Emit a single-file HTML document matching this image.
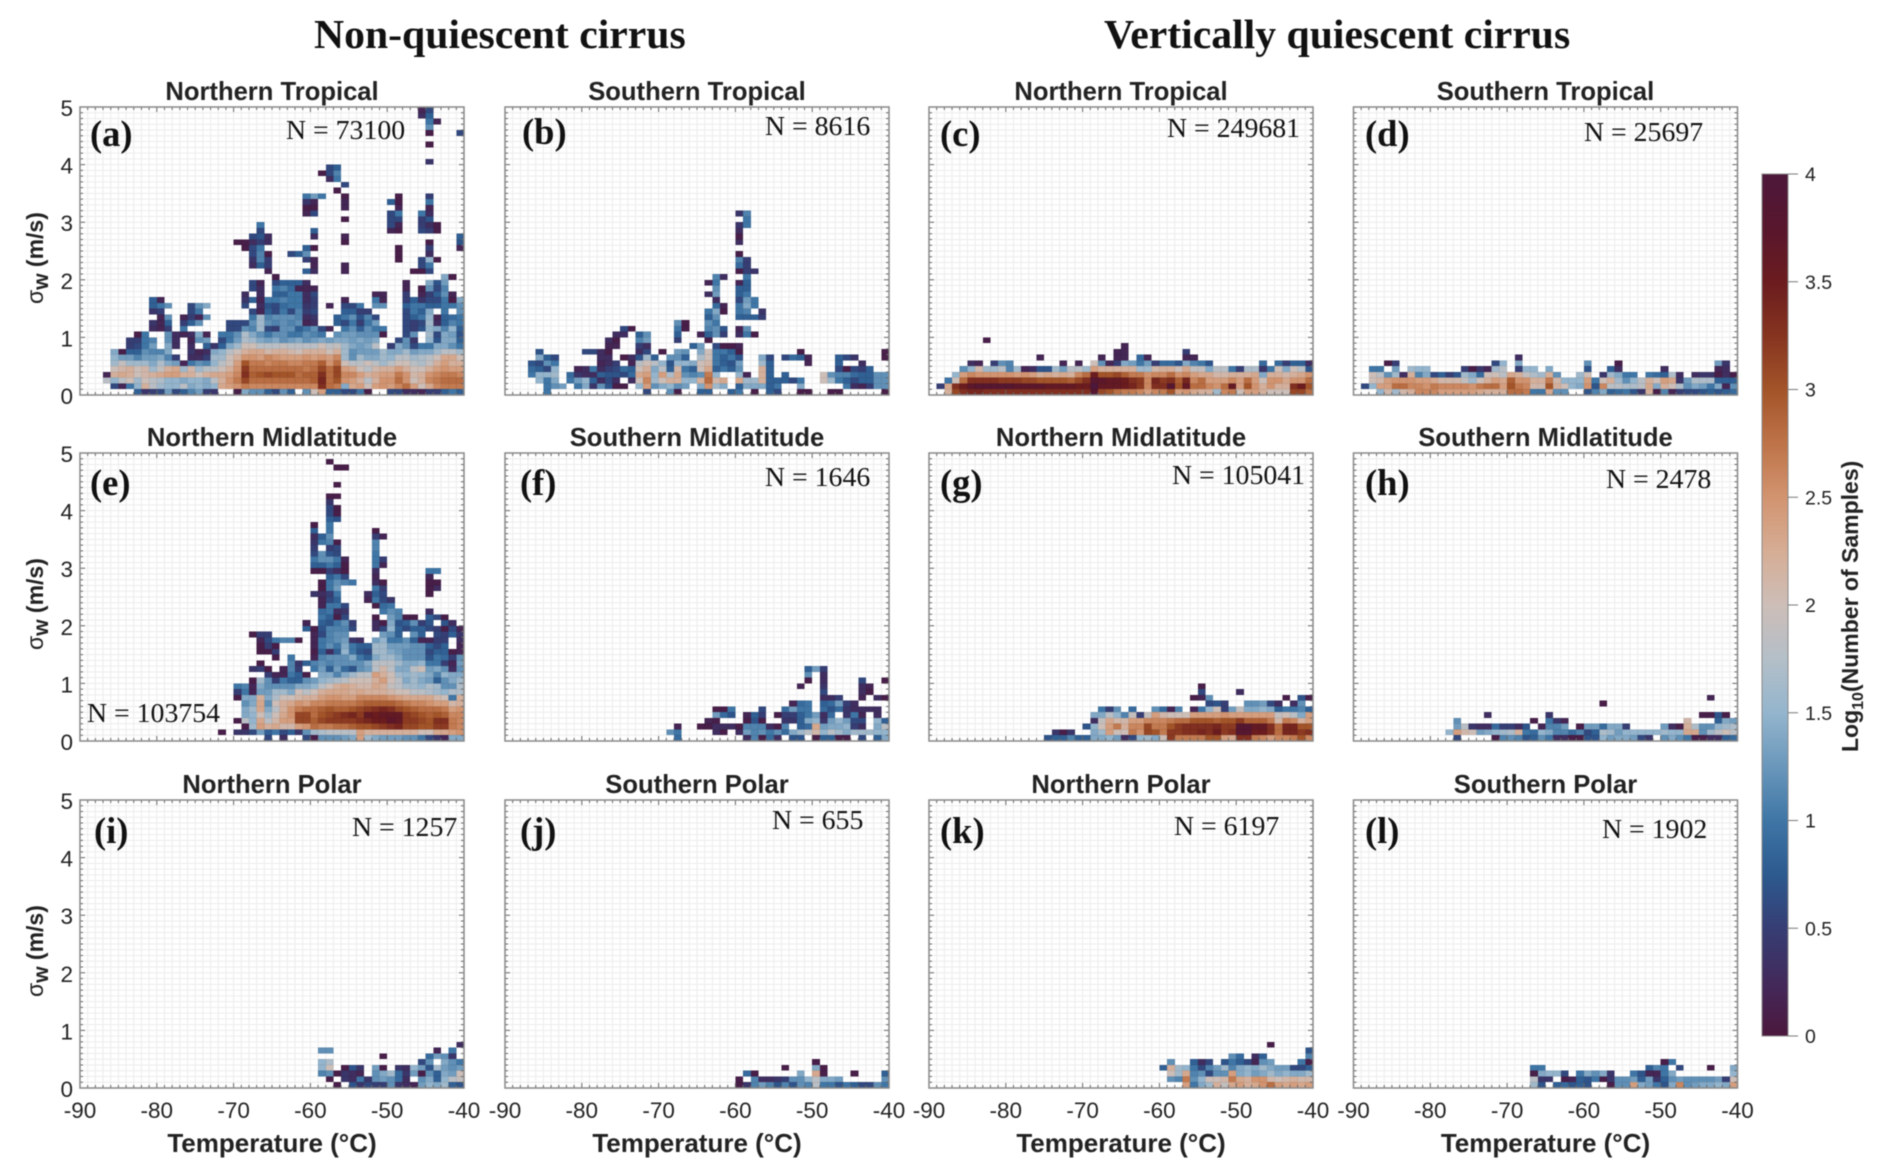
<!DOCTYPE html>
<html lang="en">
<head>
<meta charset="utf-8">
<title>Cirrus sigma-w versus temperature heatmaps</title>
<style>
html,body{margin:0;padding:0;background:#fff;width:1892px;height:1176px;overflow:hidden}
svg{display:block;filter:blur(.4px)}
text{font-family:"Liberation Sans",Arial,sans-serif;fill:#222}
.serif{font-family:"Liberation Serif","Times New Roman",serif;fill:#111}
</style>
</head>
<body>
<svg id="chart" xmlns="http://www.w3.org/2000/svg" width="1892" height="1176" viewBox="0 0 1892 1176">
<rect width="1892" height="1176" fill="#fff"/>
<text class="serif" x="314" y="48" font-size="41.7" font-weight="700">Non-quiescent cirrus</text>
<text class="serif" x="1104" y="48" font-size="41.7" font-weight="700">Vertically quiescent cirrus</text>
</svg>
<script>
// Each panel: rows from the sigma-w 0-0.1 bin upward. Each row holds segments:
// [temperature of first bin in deg C, then 10*log10(samples) per 1-degree bin].
const _ = null;
const temperatureTicks = [-90,-80,-70,-60,-50,-40];
const sigmaTicks = [0,1,2,3,4,5];
const colorbarTicks = [0,0.5,1,1.5,2,2.5,3,3.5,4];
const colorbarTickLabels = ['0','0.5','1','1.5','2','2.5','3','3.5','4'];
const panelTitles = ['Northern Tropical','Southern Tropical','Northern Tropical','Southern Tropical','Northern Midlatitude','Southern Midlatitude','Northern Midlatitude','Southern Midlatitude','Northern Polar','Southern Polar','Northern Polar','Southern Polar'];
const panelLetters = ['(a)','(b)','(c)','(d)','(e)','(f)','(g)','(h)','(i)','(j)','(k)','(l)'];
const sampleCounts = [73100,8616,249681,25697,103754,1646,105041,2478,1257,655,6197,1902];

const panelA = [
[[-83,8,4,5,6,13,6,8,11,13,5,4,_,_,1,14,12,12,8,6,12,8,_,12,20,24,8,8,6,6,10,1,_,_,6,6,3,3,2,5,5,8,10,8]],
[[-86,6,2,10,15,22,18,16,15,15,18,14,15,14,15,23,24,25,27,26,26,26,26,26,26,26,26,26,33,28,27,14,23,24,20,24,25,24,26,28,24,20,23,26,27,27,27]],
[[-87,18,15,18,20,16,20,18,17,15,15,14,15,15,14,18,22,25,27,31,28,28,28,28,28,28,28,28,29,34,28,30,25,24,22,18,22,25,25,28,25,20,22,26,27,28,28,28]],
[[-87,2,22,23,22,20,21,22,23,24,24,22,22,20,22,23,23,24,26,33,29,30,31,30,30,30,28,29,29,33,28,31,26,26,24,22,23,24,24,27,25,21,22,25,26,27,27,26]],
[[-86,20,21,22,20,21,16,19,22,23,16,21,16,18,18,20,22,25,32,28,28,28,28,28,28,28,27,28,31,28,31,24,23,20,18,21,22,22,24,22,20,20,22,24,25,24,24]],
[[-86,16,19,16,16,16,14,17,14,13,2,10,12,11,15,18,20,24,30,27,27,26,27,27,26,26,27,27,29,25,28,20,18,18,20,18,16,18,20,20,18,17,19,22,24,22,22]],
[[-86,15,13,13,11,13,13,14,11,5,_,3,3,5,16,16,20,22,25,25,24,26,25,24,24,24,25,24,25,24,26,16,12,16,14,14,16,15,18,18,16,17,18,20,23,23,20]],
[[-86,14,1,8,8,12,11,11,14,_,_,4,2,3,14,15,18,20,22,23,23,21,22,22,21,20,22,22,22,20,22,16,12,13,13,13,16,14,14,16,13,14,14,16,18,18,16]],
[[-84,5,6,10,13,_,14,3,_,3,_,8,4,8,14,16,20,20,18,18,18,19,18,18,18,18,20,18,19,16,14,13,14,18,_,5,14,12,6,10,10,14,14,12,10]],
[[-84,5,5,10,11,_,12,3,_,2,12,13,_,6,10,13,17,16,14,13,14,12,13,14,12,13,14,13,14,14,13,14,13,14,_,_,6,12,4,_,15,7,14,14,8]],
[[-83,1,10],[-79,12,3,2,3,14,2,_,10,10,12,17,14,12,10,12,12,10,10,12,11,10,_,12,13,13,12,12,12,1],[-48,6,12,_,16,6,14,13,7]],
[[-81,3,2,5,_,10],[-71,6,6,12,11,16,6,5,12,12,8,10,12,6,2,_,10,12,8,12,10,10],[-48,6,5,7,15,14,11,15,8]],
[[-81,4,2,8,_,5,8,12],[-71,6,6,6,12,16,12,11,12,11,12,2,3,_,_,8,6,10,5,10,13],[-48,6,5,6,16,3,8,11,10]],
[[-80,2,12,_,2,5,2,12],[-68,10,16,11,12,12,12,11,3,4,_,_,8,10,12,7,11,6],[-48,6,8,10,15,2,8,9,10]],
[[-81,4,5],[-76,6,10],[-68,6,2,8,6,10,6,11,5,6],[-56,8,8,5,5],[-48,6,10,8,14,_,10,_,12]],
[[-81,8,10,12,_,_,6,12,14],[-69,6,_,3,7,6,9,10,10,4,5,_,2,_,6,6,10,_,12,12,_,_,8,10,10,8,8,10,10,12]],
[[-81,8,2],[-69,4,8,2,10,10,11,10,10,3,5],[-56,2],[-52,10,2],[-48,5,8,4,6,6,10,1,14]],
[[-69,3,_,3,_,8,8,10,10,3,6],[-52,2,2],[-48,5,_,2,5,8,12,2]],
[[-68,6,3,_,10,11,9,2,2,2],[-48,2,_,1,12,6,11]],
[[-68,6,2,_,6,8,8,8,3],[-48,2],[-45,14,7,13]],
[[-65,1],[-43,14,1]],
[[-66,2],[-61,8,3],[-56,2],[-47,1,1,6]],
[[-68,3,8,5],[-60,2],[-56,2],[-46,6,10]],
[[-68,4,11,5],[-61,5,2],[-49,1],[-46,6,15,1]],
[[-68,6,11,1,_,_,6,8,12],[-49,1],[-45,3]],
[[-69,1,6,10],[-61,8,1],[-49,1],[-45,5],[-41,2]],
[[-70,1,1,3,5,3],[-56,1],[-45,1],[-41,7]],
[[-68,6,7,3],[-60,3],[-56,2],[-41,8]],
[[-67,6],[-60,8],[-50,2,1],[-46,6,5,1]],
[[-67,10],[-50,6,2],[-46,5,3,1]],
[[-56,1],[-50,6,6],[-46,5,7]],
[[-61,2,6],[-50,6,10],[-46,10,3]],
[[-61,1,1],[-56,2],[-49,2],[-45,2]],
[[-61,4,2],[-56,2],[-50,8,1],[-45,10]],
[[-61,10,13,10],[-56,1],[-49,1],[-45,5]],
[[-57,1]],
[[-56,6]],
[[-58,3,10]],
[[-59,1,6,11]],
[[-58,6,8]],
[[-45,4]],
[],
[],
[[-45,1]],
[],
[[-45,1],[-41,6]],
[[-45,12]],
[[-45,10,2]],
[[-46,3,8]],
[[-46,2,6]]
];

const panelB = [
[[-85,10],[-72,6],[-69,12,1],[-65,8,8],[-61,8,10],[-58,1],[-56,8,6],[-52,1,1],[-48,1,1],[-41,1]],
[[-85,10,12,13],[-81,10,14,4,12,7,1,1,_,15,24,12,14,15,12,13,_,14,25,16,14],[-60,8,14,14,14,8,10],[-52,14],[-46,10,3,2,5,12,12]],
[[-86,15,10,14,_,10,13,15,8,3,6,3,_,3,20,26,16,20,22,22,15,15,22,28,21,23,_,23,16,16,22,8,8,8,6,10],[-49,20,16,10,8,6,8,8,12,12]],
[[-87,10,15,15,16,_,9,4,3,3,8,7,7,6,9,23,24,15,24,17,23,12,11,12,27,15],[-60,15,2,_,22,8,_,8],[-49,20,12,11,11,9,8,8,12,12]],
[[-87,9,8,6,15],[-81,2,3,10,3,5,6,9,8,20,22,14,18,8,21,10,8,20,23,8,10,8,12],[-57,22,8],[-47,6,1,6,5,8]],
[[-87,7,6,12,10],[-78,2,3,5,_,2,18,20,18,15,7,15,15,14,20,21,10,8,7,13],[-57,16,8],[-51,2],[-47,8],[-44,3]],
[[-86,14,8,6],[-78,3,3,_,1,3,7,16,8,_,12,12,8,_,17,20,10,8,10,7],[-57,14,6,_,6,9,8,2],[-47,8,6,4],[-41,1]],
[[-86,7],[-80,6,6,3,1],[-73,3,6,_,1,_,13,12,_,14,20,10,10,8,1],[-52,1],[-41,1]],
[[-77,2,2],[-73,5,3],[-66,8,13,_,6,1,1,2]],
[[-77,3,1],[-73,11,13],[-68,5],[-64,1]],
[[-76,3,3,_,8,12],[-68,8],[-65,2,8,12,5,_,3,10,1]],
[[-75,6,1],[-68,10,1],[-64,11,12,7,_,2,12]],
[[-68,12,1],[-64,12,10]],
[[-64,8,12],[-60,8,8,8,5]],
[[-64,10,14,1],[-60,10,11,_,4]],
[[-63,9,2],[-60,10,14,10]],
[[-63,3],[-60,6,13,10]],
[[-64,3,13],[-60,8,10]],
[[-63,12],[-60,8,8]],
[[-64,2,10],[-60,2,8]],
[[-63,11,3],[-59,10]],
[[-60,1,5,4]],
[[-60,9,5]],
[[-60,11,5]],
[[-60,1]],
[],
[[-60,3]],
[[-60,1]],
[[-60,3]],
[[-60,4,10]],
[[-59,10]],
[[-60,4,11]]
];

const panelC = [
[[-88,22,31,33,34,34,33,33,33,33,33,33,33,33,33,33,33,33,33,33,38,31,30,28,27,27,26,24,26,27,30,24,25,23,22,22,16,26,27,20,24,24,22,20,20,20,31,31,28]],
[[-89,5,23,33,35,37,38,38,38,38,38,37,37,37,37,36,36,36,36,35,35,40,36,36,36,35,34,32,26,33,33,38,30,36,28,28,26,25,28,36,24,30,25,22,25,22,22,33,35,30]],
[[-88,10,20,28,33,33,33,33,32,32,32,31,31,30,30,30,30,29,31,33,38,37,36,36,35,33,32,26,34,32,33,29,34,26,28,24,24,24,26,24,28,24,20,25,25,23,25,25,28]],
[[-87,15,24,26,25,25,25,25,25,24,25,24,22,23,22,23,22,26,28,35,30,30,31,29,27,27,25,26,26,28,25,26,24,23,23,21,21,22,22,22,23,14,22,22,21,22,23,25]],
[[-86,12,15,21,16,16,18,11,16,2,3,7,7,16,13,18,18,16,24,22,22,22,22,22,16,16,21,22,22,20,23,19,19,14,18,18,10,5,17,17,4,10,20,14,20,18,7]],
[[-85,3,2,_,5,12,11],[-73,2,_,2,_,20,12,2,5,14,13,10,13,5,9,9,7,14,11,10,7],[-47,9,_,9,5,8,8,3]],
[[-76,2],[-68,2,_,2,2,_,9,2],[-57,2,2]],
[[-66,2,2],[-57,5]],
[[-65,2]],
[[-83,1]]
];

const panelD = [
[[-87,15,21,16,21,22,26,26,26,24,24,24,24,24,23,22,22,22,28,28,27,10,10,23,12,12,_,_,7,11,14,8,9,10,7,4,22,1,11,2,5,6,6,7,8,7,8,9]],
[[-89,6,15,24,24,28,28,26,26,25,27,26,26,26,26,25,27,28,28,24,30,27,26,21,21,30,22,20,15,14,25,7,26,18,18,17,17,18,23,14,22,20,17,12,14,13,10,14,2,12]],
[[-88,20,21,24,25,25,25,24,24,23,21,21,21,19,16,20,22,24,23,29,25,25,22,22,27,21,15,15,15,24,10,20,22,16,12,15,18,22,20,24,23,4,13,17,17,17,8,8,8]],
[[-88,20,18,12,16,3,22,11,14,6,8,5,7,16,14,9,20,20,18,23,22,19,17,16,22,12],[-61,16,20,_,4,16,14,10,10,_,10,9,8,17,3,_,3,4,4,1,3,1]],
[[-88,10,10,_,13,_,16,15,15],[-76,5,1,4,2,16,18,_,5,15,15,_,14],[-60,7,_,_,8,3],[-50,3],[-43,2,3]],
[[-86,1,5],[-72,6,15,_,14],[-60,12],[-56,1],[-43,13,4]],
[[-69,3]]
];

const panelE = [
[[-66,6,_,3,_,_,6,1,12,12,12,13,14,24,16,14,13,13,13,12,12,10,6,4,2,14,14]],
[[-72,1,_,4,4,6,13,8,10,6,8,4,12,16,17,18,18,18,18,24,22,22,22,22,22,22,22,20,20,23,23,24,25]],
[[-69,1,16,24,22,23,21,21,24,25,28,27,27,28,28,29,30,30,31,32,33,34,31,31,30,30,32,32,27,26]],
[[-70,1,18,15,23,18,21,24,24,31,31,29,31,32,32,32,32,33,34,35,35,37,36,32,32,31,30,33,33,27,26]],
[[-69,14,15,20,16,20,23,25,31,31,28,30,31,32,33,34,32,36,35,36,36,36,32,31,30,29,30,29,26,26]],
[[-69,14,16,23,14,18,22,25,27,28,28,29,30,29,29,30,31,32,33,34,33,31,30,29,28,28,28,27,24,25]],
[[-69,12,14,23,12,20,22,23,25,24,26,26,27,27,27,27,28,29,29,29,29,28,27,26,26,25,24,24,21,22]],
[[-70,1,14,14,22,14,17,20,20,21,22,22,24,25,25,24,24,26,26,26,26,25,24,23,23,23,23,21,20,10,22]],
[[-70,5,10,2,13,13,16,16,14,20,18,20,22,23,23,23,22,23,22,22,22,21,20,20,18,18,17,16,15,17,17]],
[[-70,10,11,2,14,12,12,12,12,14,14,15,18,20,22,23,22,21,21,23,22,19,18,16,16,15,17,16,12,12,17]],
[[-68,1,16,12,5,10,8,8,12,13,15,16,17,18,20,20,20,22,24,20,18,14,16,14,13,8,12,14,16]],
[[-66,5,2,2,10,8,1,_,14,14,11,14,16,18,18,24,22,20,16,15,16,15,14,11,15,14,14]],
[[-68,4,5,1,_,2,11,5,_,10,13,8,13,9,7,12,13,18,21,18,14,14,18,20,13,14,12,3,12]],
[[-67,1],[-63,11,4,8,11,12,11,12,12,12,12,14,18,18,18,16,14,14,15,10,10,5,2,13]],
[[-65,1,_,10],[-60,2,11,12,12,12,14,10,8,14,16,16,14,12,12,12,7,10,9,5,12]],
[[-67,1,1,5],[-60,1,8,3,8,15,10,7,6,16,16,14,13,12,12,12,6,8,8,1,2]],
[[-67,1,5,1],[-60,2,10,12,10,14,10,8,8,16,16,13,13,13,12,12,8,6,8,_,2]],
[[-67,2,6,10,11,11,1,_,2,10,11,12,13,4,3,_,13,15,10,10,12,8,2,2,5,5,_,3]],
[[-68,1,5,5],[-60,2,6,11,12,12],[-51,13,12,8,_,12,8,_,6,5,8,4]],
[[-61,8,1,7,11,11,11,6,_,_,3,6,15,8,6,8,8,6,5,1,6,2]],
[[-61,2,_,8,7,10,12,5,_,_,3,1,14,7,8,12,5,7,_,7,3]],
[[-59,10,8,1,6],[-52,1,_,13,11,1,1,_,8,6,1]],
[[-59,9,10,3,4],[-51,10,12,11],[-45,3]],
[[-59,2,10,10,6],[-52,1,9,10]],
[[-59,2,6,8],[-53,2,10,6,4]],
[[-60,4,3,5,10],[-53,3,8,6],[-45,1]],
[[-59,1,10,13],[-52,10,5],[-45,1,3]],
[[-59,1,10,12,11,10],[-52,3,1],[-45,1,1]],
[[-58,8,10,6],[-52,2],[-45,2]],
[[-60,1,1,5,3,1],[-52,3],[-45,10,10]],
[[-60,8,8,10,8,1],[-52,10,2]],
[[-60,10,12,12,10,2],[-52,10,5]],
[[-60,6,12,7,6],[-52,10]],
[[-60,5,_,5,6],[-52,11]],
[[-60,4,10,11,1],[-52,11]],
[[-60,3,8,12],[-52,5,2]],
[[-60,8,_,10],[-52,1]],
[[-60,1,_,10]],
[[-58,8,7]],
[[-58,6,1]],
[[-58,6,1]],
[[-58,4]],
[[-58,1,1]],
[],
[[-57,1]],
[],
[],
[[-57,1,1]],
[[-58,1]]
];

const panelF = [
[[-68,9],[-59,3,11,1,9,3,_,7,7,_,1,8,8,1,1,_,6,_,8,14]],
[[-69,12,10],[-63,3,1,_,3,13,11,12,10,12,9,14,16,18,21,15,18,16,14,16,16,16,15,15]],
[[-68,2],[-65,1,1,3,3,3,1,11,11,11,3,1,11,_,8,9,23,13,14,14,15,5,3,_,14,18]],
[[-64,2,1],[-59,1,7,1,_,_,4,4,8,14,15,4,13,15,13,6,6,_,15,8]],
[[-63,13,9,7,_,2,8,5,_,1,5,5,8,10,13,3,9,_,4,10,2,_,3]],
[[-63,1,1,10],[-57,6],[-54,9,13,10,10,_,9,7,9,4,3,3,3,3]],
[[-53,2,9,10,_,8,9,13,5,3]],
[[-49,3,3,5],[-44,2,_,3,1]],
[[-49,6],[-44,3,1]],
[[-52,2],[-49,4],[-44,3,2]],
[[-51,1,_,3],[-44,6],[-41,1]],
[[-51,12,_,3]],
[[-51,8,13,5]]
];

const panelG = [
[[-75,7,8,8,11,8,8,14,14,15,13,3,6,15,16,14,20,32,27,27,27,27,30,30,24,23,33,33,27,26,24,26,26,27,30,26]],
[[-74,4,1,4],[-69,14,16,24,20,20,27,25,31,30,27,32,32,33,33,34,33,35,32,33,38,38,35,35,33,28,34,34,32,33]],
[[-70,7,15,20,24,27,22,26,26,31,27,27,30,32,33,33,33,33,34,32,32,38,38,36,36,33,28,34,34,30,30]],
[[-69,3,19,23,21,21,24,24,26,26,26,27,28,28,30,30,30,29,30,30,32,29,29,29,27,21,27,26,22,24]],
[[-69,14,14,18,15,11,19,5,19,24,21,20,20,20,24,24,24,24,25,24,24,24,24,24,24,19,20,18,14,24]],
[[-68,10,5,12,_,9,_,_,12,9,2,11,_,2,10,15,20,5,13,19,14,14,15,14,8,10,10,11,8]],
[[-54,6,7,5],[-49,12,12,13,6,3,_,3,12]],
[[-56,1,2,12],[-44,1,_,7,1]],
[[-55,6],[-50,3]],
[[-55,1]]
];

const panelH = [
[[-77,6],[-72,1,11,12,11,7,8,12,10,3,3,1,1,7,7,15,13,14,14,13,6,4,_,12,14,12,10,1,1,3,3,8,9]],
[[-78,15,24,21,20,13,14,15,16,17,22,10,9,15,14,11,11,9,11,6,8,17,16,13,15,15,15,15,15,16,15,15,23,23,12,16,18,20,18]],
[[-77,13,18,4,3,3,9,5,5,3,7,_,2,11,11,13,_,1,13,13,9,14,14,5],[-50,13,3,1,22,17,12,12,15,16,17]],
[[-77,12],[-67,1,_,10,4,2],[-47,21],[-43,8,14,13]],
[[-73,3],[-65,4],[-45,1,1,7,1]],
[],
[[-58,1]],
[[-44,2]]
];

const panelI = [
[[-57,1,_,7,4,6,5,5,12,4,3,2,13,15,14,16,8,7]],
[[-58,1,_,4,3,10,4,12,13,12,9,3,_,12,14,8,15,18,19]],
[[-59,11,12,1,4,3,2,_,12,14,16,9,4,13,1,12,8,14,13,20]],
[[-59,15,20,_,1,7,4,_,13,1,_,4,3,15,13,7,16,13,12,13]],
[[-59,15,17],[-46,6,12,_,14,12,10]],
[[-51,1],[-45,9,13,12,4]],
[[-59,12,12],[-44,2,_,10]],
[[-41,3]]
];

const panelJ = [
[[-60,1,4,11,13,11,7,11,7,12,11,18,10,10,7,10,8,6,6,12,10]],
[[-60,1,_,11,3,3,4,5,12,12,15,18,14,14,13],[-41,12]],
[[-59,9,1],[-52,14,_,23,1],[-45,1],[-41,8]],
[[-54,1],[-50,14,1]],
[[-50,1]]
];

const panelK = [
[[-57,24,10,14,16,22,19,23,24,22,23,25,28,24,23,24,23,24]],
[[-59,12,11,27,12,15,20,20,21,27,23,22,25,25,21,20,21,22,21,21]],
[[-59,20,16,23,11,12,6,12,12,24,14,15,13,14,16,14,15,14,14,16]],
[[-60,8,22,16,15,10,6,11,13,16,11,14,15,14,16,14,13,13,6,6,8]],
[[-59,12],[-56,8,3,6,_,7,10,8,6,2,12,13],[-42,10,1]],
[[-51,12,9,_,3,8],[-41,11]],
[[-41,7]],
[[-46,1]]
];

const panelL = [
[[-67,16,7,_,8,9,7,8,7,_,_,1,12,12,24,14,13,10,7,14,26,12,13,14,14,15,14,24]],
[[-67,18,4,4,_,1,2,8,7,10,1,4,12,12,13,8,13,4,8,12,13,12,12,12,12,13,5,20]],
[[-67,1,14,15,15,6,_,10,14,12,14,4],[-54,10,7,2,2,10,14],[-41,15]],
[[-67,10,10],[-52,8,11,10,_,6],[-44,1],[-41,14]],
[[-50,1,10]]
];

const panelData = [panelA,panelB,panelC,panelD,panelE,panelF,panelG,panelH,panelI,panelJ,panelK,panelL];

/* ---------- layout ---------- */
const svgNS = 'http://www.w3.org/2000/svg';
const chart = document.getElementById('chart');
const columnLefts = [80,505,929,1353.5];
const rowTops = [107,453,800];
const plotW = 384, plotH = 288;
const labelLayout = [
 {lx:90,ly:146,nx:286,ny:139},{lx:522,ly:144,nx:765,ny:135},{lx:940,ly:146,nx:1167,ny:137},{lx:1365,ly:146,nx:1584,ny:141},
 {lx:90,ly:495,nx:87,ny:722},{lx:520,ly:495,nx:765,ny:486},{lx:940,ly:495,nx:1172,ny:484},{lx:1365,ly:495,nx:1606,ny:488},
 {lx:94,ly:843,nx:352,ny:836},{lx:520,ly:843,nx:772,ny:829},{lx:940,ly:843,nx:1174,ny:835},{lx:1365,ly:843,nx:1602,ny:838}
];

function el(tag, attrs, parent){
  const e = document.createElementNS(svgNS, tag);
  for(const k in attrs) e.setAttribute(k, attrs[k]);
  (parent||chart).appendChild(e);
  return e;
}

/* ---------- colour scale ---------- */
const colorStops = ['#4c183d','#432a5b','#363e74','#2d5a8f','#3f76a6','#6a97bb','#94b5cd','#b4bfc8','#cdbeb8','#d6ad95','#d29470','#be7348','#a35429','#863420','#6b1c1f','#58172d','#4d183b'];
function hexRgb(h){return [1,3,5].map(i=>parseInt(h.substr(i,2),16));}
function colorOf(logValue){
  const p = Math.max(0,Math.min(4,logValue))/4*(colorStops.length-1);
  const i = Math.min(colorStops.length-2,Math.floor(p)), f = p-i;
  const a = hexRgb(colorStops[i]), b = hexRgb(colorStops[i+1]);
  return 'rgb('+a.map((v,k)=>Math.round(v+(b[k]-v)*f)).join(',')+')';
}

/* ---------- panels ---------- */
panelData.forEach(function(rows,index){
  const col = index%4, row = Math.floor(index/4);
  const left = columnLefts[col], top = rowTops[row], bottom = top+plotH, right = left+plotW;
  const xScale = t => left+(t+90)/50*plotW;
  const yScale = s => bottom-s/5*plotH;

  const panel = el('g',{});
  
  

  const heat = el('g',{'shape-rendering':'crispEdges'},panel);
  
  
  rows.forEach(function(segments,r){
    segments.forEach(function(seg){
      for(let i=1;i<seg.length;i++){
        if(seg[i]===null) continue;
        const t = seg[0]+i-1, s = r*0.1;
        const cell = el('rect',{x:xScale(t),y:yScale(s+0.1),width:xScale(t+1)-xScale(t),height:yScale(s)-yScale(s+0.1),fill:colorOf(seg[i]/10)},heat);
        
        
      }
    });
  });

  let grid='', ticks='';
  for(let k=1;k<50;k++){
    const x=xScale(-90+k).toFixed(2), y=yScale(k*0.1).toFixed(2);
    grid+='M'+x+' '+top+'V'+bottom+'M'+left+' '+y+'H'+right;
  }
  for(let k=1;k<50;k++){
    const x=xScale(-90+k).toFixed(2), y=yScale(k*0.1).toFixed(2), len=(k%10===0)?5:3;
    ticks+='M'+x+' '+bottom+'v-'+len+'M'+x+' '+top+'v'+len+'M'+left+' '+y+'h'+len+'M'+right+' '+y+'h-'+len;
  }
  const gridPath = el('path',{d:grid,stroke:'#000','stroke-opacity':'.075','stroke-width':'1',fill:'none'},panel);
  
  
  const tickPath = el('path',{d:ticks,stroke:'#666','stroke-width':'1',fill:'none'},panel);
  
  
  const frame = el('rect',{x:left,y:top,width:plotW,height:plotH,fill:'none',stroke:'#888','stroke-width':'1.5'},panel);
  
  

  const title = el('text',{x:left+plotW/2,y:top-7,'text-anchor':'middle','font-size':'25.6','font-weight':'700'},panel);
  title.textContent = panelTitles[index];
  
  

  const L = labelLayout[index];
  const letter = el('text',{class:'serif',x:L.lx,y:L.ly,'font-size':'36.5','font-weight':'700'},panel);
  letter.textContent = panelLetters[index];
  
  
  const count = el('text',{class:'serif',x:L.nx,y:L.ny,'font-size':'27.8'},panel);
  count.textContent = 'N = '+sampleCounts[index];
  
  

  if(col===0){
    sigmaTicks.forEach(function(v){
      const t = el('text',{x:left-7,y:yScale(v)+9,'text-anchor':'end','font-size':'22.5'},panel);
      t.textContent = String(v);
      
      
    });
    const yb = bottom-91;
    const yl = el('text',{transform:'translate(43,'+yb+') rotate(-90)','font-size':'23','font-weight':'700'},panel);
    
    
    const sig = el('tspan',{'font-weight':'400'},yl); sig.textContent='σ';
    const sub = el('tspan',{dy:'5','font-size':'21'},yl); sub.textContent='w';
    const rest = el('tspan',{dy:'-5'},yl); rest.textContent=' (m/s)';
  }
  if(row===2){
    temperatureTicks.forEach(function(v){
      const t = el('text',{x:xScale(v),y:1118,'text-anchor':'middle','font-size':'22.5'},panel);
      t.textContent = String(v);
      
      
    });
    const xl = el('text',{x:left+plotW/2,y:1152,'text-anchor':'middle','font-size':'26','font-weight':'700'},panel);
    xl.textContent = 'Temperature (°C)';
    
    
  }
});

/* ---------- colour bar ---------- */
const cbX=1762, cbW=26, cbTop=174, cbBottom=1036;
const defs = el('defs',{});
const grad = el('linearGradient',{id:'cbGrad',x1:'0',y1:'1',x2:'0',y2:'0'},defs);
colorStops.forEach(function(c,i){el('stop',{offset:(i/(colorStops.length-1)).toFixed(4),'stop-color':c},grad);});
const cb = el('g',{});


const cbRect = el('rect',{x:cbX,y:cbTop,width:cbW,height:cbBottom-cbTop,fill:'url(#cbGrad)',stroke:'#8a8a8a','stroke-width':'1'},cb);


const cbScale = v => cbBottom-(v/4)*(cbBottom-cbTop);
colorbarTicks.forEach(function(v,i){
  const y = cbScale(v);
  const tk = el('line',{x1:cbX+cbW,x2:cbX+cbW+10,y1:y,y2:y,stroke:'#777','stroke-width':'1'},cb);
  
  
  const tl = el('text',{x:1805,y:y+7,'font-size':'19.5'},cb);
  tl.textContent = colorbarTickLabels[i];
  
  
});
const cbTitle = el('text',{transform:'translate(1858,752) rotate(-90)','font-size':'23','font-weight':'700'},cb);


const c1 = el('tspan',{},cbTitle); c1.textContent='Log';
const c2 = el('tspan',{dy:'5','font-size':'16'},cbTitle); c2.textContent='10';
const c3 = el('tspan',{dy:'-5'},cbTitle); c3.textContent='(Number of Samples)';
</script>
</body>
</html>
